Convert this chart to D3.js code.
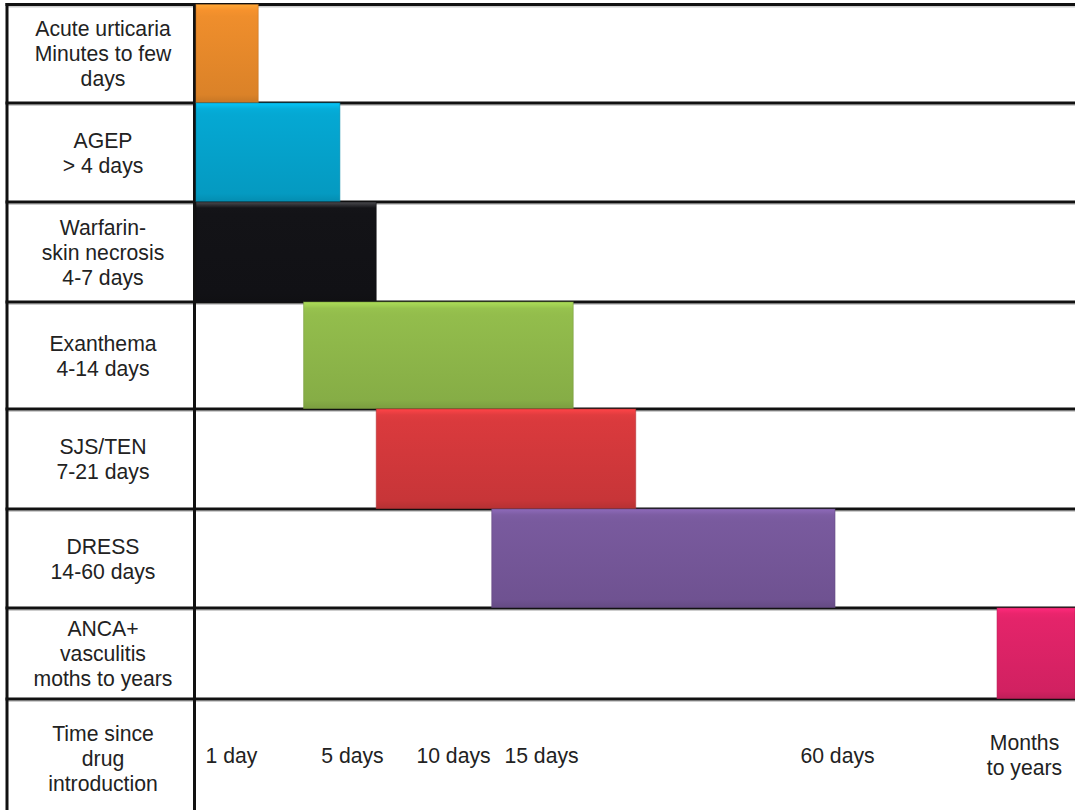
<!DOCTYPE html>
<html>
<head>
<meta charset="utf-8">
<script src="https://cdn.jsdelivr.net/npm/d3@7"></script>
<style>
  html, body { margin: 0; padding: 0; background: #fff; }
  svg { display: block; }
  text { font-family: "Liberation Sans", Arial, Helvetica, sans-serif; fill: #222; }
</style>
</head>
<body>
<svg id="chart" width="1075" height="810"></svg>
<script>
// Reaction types, each with its label lines (name + typical onset)
const categories = ["Acute urticaria", "AGEP", "Warfarin-skin necrosis", "Exanthema", "SJS/TEN", "DRESS", "ANCA+ vasculitis"];
const rowLabels = [
  ["Acute urticaria", "Minutes to few", "days"],
  ["AGEP", "> 4 days"],
  ["Warfarin-", "skin necrosis", "4-7 days"],
  ["Exanthema", "4-14 days"],
  ["SJS/TEN", "7-21 days"],
  ["DRESS", "14-60 days"],
  ["ANCA+", "vasculitis", "moths to years"]
];
// Onset window of each bar, in days since drug introduction (on the timeline below)
const startDays = [0, 0, 0, 3.4, 6.2, 12.2, 321];
const endDays   = [1.9, 4.6, 6.2, 19.9, 29.4, 59.7, 730];

// Timeline ticks
const tickDays   = [1, 5, 10, 15, 60, 365];
const tickLabels = ["1 day", "5 days", "10 days", "15 days", "60 days", "Months\nto years"];
const axisTitle  = ["Time since", "drug", "introduction"];

// Bar fills
const palette = ["#ef8e2c", "#05a8d3", "#131317", "#93bd4c", "#da3a3d", "#795a9e", "#e4246a"];

const W = 1075, H = 810;
const FONT = "21.2px";
const svg = d3.select("#chart");
const defs = svg.append("defs");

// Timeline scale: piecewise linear through the tick positions
const x = d3.scaleLinear()
  .domain([0, ...tickDays, 730])
  .range([196, 231, 352, 453, 541, 837, 1024, 1075]);

// Row edges (table rows of the chart, last row holds the time axis)
const y = d3.scaleLinear()
  .domain([0, 1, 2, 3, 4, 5, 6, 7, 8])
  .range([4.5, 103, 202, 302, 409, 509, 608, 699, 810]);

const labelCx = 103;
const lineGap = 25;

// Grid lines with a soft shadow
const grid = svg.append("g");
const hEdges = d3.range(0, 8);
grid.selectAll("line.shadow").data(hEdges).join("line")
  .attr("x1", 7).attr("x2", W)
  .attr("y1", d => y(d) + 2.2).attr("y2", d => y(d) + 2.2)
  .attr("stroke", "#b8b8b8").attr("stroke-width", 1.6).attr("opacity", 0.7);
grid.selectAll("line.h").data(hEdges).join("line")
  .attr("x1", 5.5).attr("x2", W)
  .attr("y1", d => y(d)).attr("y2", d => y(d))
  .attr("stroke", "#111").attr("stroke-width", 3);
grid.selectAll("line.v").data([7, 194.5]).join("line")
  .attr("x1", d => d).attr("x2", d => d)
  .attr("y1", y(0) - 1.5).attr("y2", H)
  .attr("stroke", "#111").attr("stroke-width", 3);

// Glossy gradient per bar
const shade = (c, k) => d3.color(c).brighter(k).formatHex();
const shadeD = (c, k) => d3.color(c).darker(k).formatHex();
palette.forEach((c, i) => {
  const g = defs.append("linearGradient").attr("id", "g" + i)
    .attr("x1", 0).attr("y1", 0).attr("x2", 0).attr("y2", 1);
  const light = i === 2 ? "#4a4a4e" : shade(c, 0.45);
  g.append("stop").attr("offset", "0").attr("stop-color", light);
  g.append("stop").attr("offset", "0.06").attr("stop-color", shade(c, 0.08));
  g.append("stop").attr("offset", "0.12").attr("stop-color", c);
  g.append("stop").attr("offset", "0.92").attr("stop-color", shadeD(c, 0.25));
  g.append("stop").attr("offset", "1").attr("stop-color", shadeD(c, 0.5));
});

const bars = categories.map((name, i) => ({ name, i, s: startDays[i], e: endDays[i] }));
svg.append("g").selectAll("rect").data(bars).join("rect")
  .attr("x", d => x(d.s))
  .attr("y", d => y(d.i))
  .attr("width", d => x(d.e) - x(d.s))
  .attr("height", d => y(d.i + 1) - y(d.i) - 0.5)
  .attr("fill", d => `url(#g${d.i})`)
  .attr("stroke", d => shadeD(palette[d.i], 0.6))
  .attr("stroke-opacity", 0.55)
  .attr("stroke-width", 1);

// Multi-line centred text helper
function block(g, lines, cx, cy) {
  const t = g.append("text").attr("text-anchor", "middle").style("font-size", FONT);
  lines.forEach((s, k) => {
    t.append("tspan").attr("x", cx)
      .attr("y", cy + (k - (lines.length - 1) / 2) * lineGap + 7.5)
      .text(s);
  });
  return t;
}

// Row labels
const lab = svg.append("g");
rowLabels.forEach((lines, i) => {
  block(lab, lines, labelCx, (y(i) + y(i + 1)) / 2);
});
block(lab, axisTitle, labelCx, 758);

// Time axis labels
const axis = d3.axisBottom(x).tickValues(tickDays).tickSize(0).tickFormat((d, i) => tickLabels[i]);
const ax = svg.append("g").call(axis);
ax.select(".domain").remove();
ax.selectAll(".tick").each(function (d, i) {
  const g = d3.select(this);
  g.select("text").remove();
  const lines = tickLabels[i].split("\n");
  const t = g.append("text").attr("text-anchor", "middle")
    .style("font-size", FONT).attr("fill", "#222");
  lines.forEach((s, k) => {
    t.append("tspan").attr("x", 0)
      .attr("y", 755 + (k - (lines.length - 1) / 2) * lineGap + 7.5)
      .text(s);
  });
});
</script>
</body>
</html>
